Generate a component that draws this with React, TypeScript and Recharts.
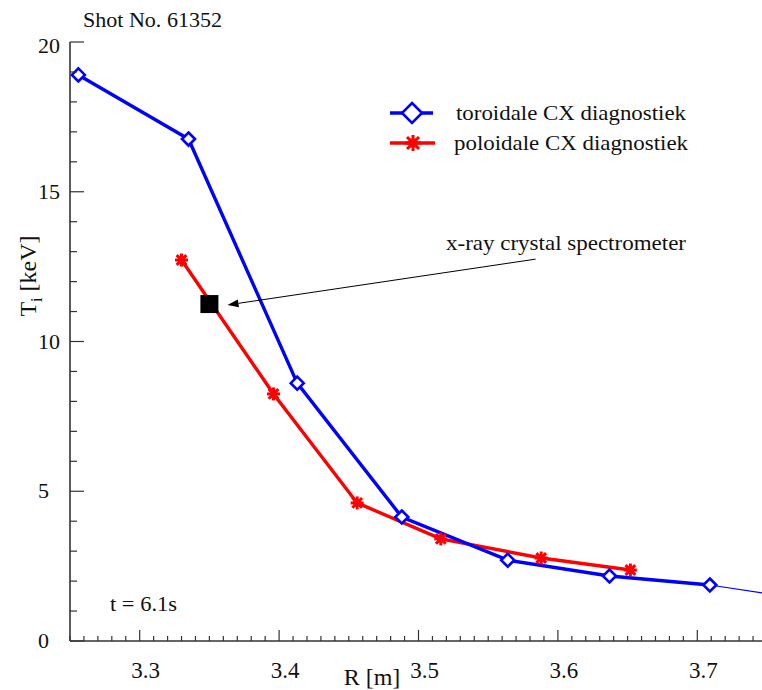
import { ComposedChart, Line, Scatter, XAxis, YAxis, ReferenceLine, Customized } from 'recharts';

// toroidal CX (blue diamonds)
const toroidalR = [3.256, 3.335, 3.413, 3.488, 3.564, 3.637, 3.709];
const toroidalT = [18.9, 16.76, 8.61, 4.14, 2.7, 2.17, 1.87];
// thin continuation past the last toroidal point
const toroidalTailR = [3.709, 3.75];
const toroidalTailT = [1.87, 1.58];
// poloidal CX (red asterisks)
const poloidalR = [3.33, 3.396, 3.456, 3.516, 3.588, 3.652];
const poloidalT = [12.72, 8.25, 4.61, 3.41, 2.77, 2.37];
// x-ray crystal spectrometer point
const crystalR = [3.35];
const crystalT = [11.25];
// annotation arrow, tail -> head
const arrowR = [3.584, 3.363];
const arrowT = [12.75, 11.22];

const xDomain = [3.25, 3.75];
const yDomain = [0, 20];
const xLabels = [3.3, 3.4, 3.5, 3.6, 3.7];
const yLabels = [0, 5, 10, 15, 20];
const xMinorStep = 0.01;
const yMinorStep = 1;

const toRows = (rs: number[], ts: number[]) => rs.map((R, i) => ({ R, T: ts[i] }));
const toroidal = toRows(toroidalR, toroidalT);
const toroidalTail = toRows(toroidalTailR, toroidalTailT);
const poloidal = toRows(poloidalR, poloidalT);
const crystal = toRows(crystalR, crystalT);

const xTicks: number[] = [];
for (let v = xDomain[0]; v <= xDomain[1] + 1e-9; v += xMinorStep) xTicks.push(+v.toFixed(2));
const yTicks: number[] = [];
for (let v = yDomain[0]; v <= yDomain[1]; v += yMinorStep) yTicks.push(v);

const BLUE = '#0000ff';
const RED = '#ff0000';
const AXIS = '#333';
const INK = '#111';
const FONT = "'Liberation Serif', 'Times New Roman', serif";

const isXMajor = (v: number) => xLabels.some((l) => Math.abs(l - v) < 1e-6);
const isYMajor = (v: number) => yLabels.includes(v);

function BottomTick({ x, y, payload }: any) {
  const major = isXMajor(payload.value);
  return (
    <g>
      <line x1={x} x2={x} y1={y} y2={y - (major ? 11 : 5)} stroke={AXIS} strokeWidth={1.2} />
      {major && (
        <text x={x + 6} y={y + 37} textAnchor="middle" fontSize={23} fontFamily={FONT} fill={INK}>
          {payload.value.toFixed(1)}
        </text>
      )}
    </g>
  );
}

function TopTick({ x, y, payload }: any) {
  const major = isXMajor(payload.value);
  return <line x1={x} x2={x} y1={y} y2={y + (major ? 11 : 5)} stroke={AXIS} strokeWidth={1.2} />;
}

function LeftTick({ x, y, payload }: any) {
  const v = payload.value;
  const major = isYMajor(v);
  return (
    <g>
      <line x1={x} x2={x + (major ? 14 : 7)} y1={y} y2={y} stroke={AXIS} strokeWidth={1.2} />
      {major && (
        <text x={38} y={y + (v === yDomain[1] ? 11 : 7)} fontSize={22} fontFamily={FONT} fill={INK}>
          {v}
        </text>
      )}
    </g>
  );
}

function RightTick({ x, y, payload }: any) {
  const major = isYMajor(payload.value);
  return <line x1={x} x2={x - (major ? 14 : 7)} y1={y} y2={y} stroke={AXIS} strokeWidth={1.2} />;
}

function Diamond({ cx, cy, r = 6.5 }: { cx: number; cy: number; r?: number }) {
  return (
    <polygon
      points={`${cx},${cy - r} ${cx + r},${cy} ${cx},${cy + r} ${cx - r},${cy}`}
      fill="#fff"
      stroke={BLUE}
      strokeWidth={2.6}
    />
  );
}

function Asterisk({ cx, cy, r = 6.5 }: { cx: number; cy: number; r?: number }) {
  const d = r * 0.75;
  return (
    <g stroke={RED} strokeWidth={3}>
      <rect x={cx - r * 0.55} y={cy - r * 0.55} width={r * 1.1} height={r * 1.1} fill={RED} stroke="none" />
      <line x1={cx - r} y1={cy} x2={cx + r} y2={cy} />
      <line x1={cx} y1={cy - r} x2={cx} y2={cy + r} />
      <line x1={cx - d} y1={cy - d} x2={cx + d} y2={cy + d} />
      <line x1={cx - d} y1={cy + d} x2={cx + d} y2={cy - d} />
    </g>
  );
}

function Arrow({ x1, y1, x2, y2 }: any) {
  const ang = Math.atan2(y2 - y1, x2 - x1);
  const len = 11;
  const w = 4;
  const bx = x2 - len * Math.cos(ang);
  const by = y2 - len * Math.sin(ang);
  const px = -Math.sin(ang) * w;
  const py = Math.cos(ang) * w;
  return (
    <g>
      <line x1={x1} y1={y1} x2={bx} y2={by} stroke="#000" strokeWidth={1} />
      <polygon points={`${x2},${y2} ${bx + px},${by + py} ${bx - px},${by - py}`} fill="#000" />
    </g>
  );
}

function Decorations() {
  return (
    <g fontFamily={FONT} fill={INK}>
      <text x={83} y={27} fontSize={21} textLength={139} lengthAdjust="spacingAndGlyphs">Shot No. 61352</text>

      <line x1={390} x2={433} y1={113} y2={113} stroke={BLUE} strokeWidth={3.5} />
      <Diamond cx={412} cy={113} r={10} />
      <text x={456} y={120} fontSize={21} textLength={230} lengthAdjust="spacingAndGlyphs">toroidale CX diagnostiek</text>

      <line x1={390} x2={435} y1={143} y2={143} stroke={RED} strokeWidth={3.5} />
      <Asterisk cx={413} cy={143} r={8} />
      <text x={454} y={150} fontSize={21} textLength={234} lengthAdjust="spacingAndGlyphs">poloidale CX diagnostiek</text>

      <text x={446} y={250} fontSize={21} textLength={240} lengthAdjust="spacingAndGlyphs">x-ray crystal spectrometer</text>
      <text x={110} y={611} fontSize={21} textLength={67} lengthAdjust="spacingAndGlyphs">t = 6.1s</text>

      <text x={372} y={685} fontSize={24} textAnchor="middle">R [m]</text>
      <text x={36} y={276} fontSize={24} textAnchor="middle" transform="rotate(-90, 36, 276)">
        T<tspan dy={6} fontSize={16}>i</tspan>
        <tspan dy={-6}> [keV]</tspan>
      </text>
    </g>
  );
}

export default function App() {
  return (
    <div style={{ position: 'absolute', left: 0, top: 0, width: 762, height: 690, overflow: 'hidden', background: '#fff' }}>
      <ComposedChart width={780} height={690} margin={{ top: 42, right: 13, bottom: 0, left: 0 }}>
        <XAxis
          dataKey="R"
          type="number"
          domain={xDomain}
          allowDataOverflow
          ticks={xTicks}
          interval={0}
          height={49}
          tickSize={0}
          tickMargin={0}
          tickLine={false}
          tick={<BottomTick />}
          axisLine={{ stroke: AXIS, strokeWidth: 1.6 }}
        />
        <XAxis
          xAxisId="top"
          orientation="top"
          dataKey="R"
          type="number"
          domain={xDomain}
          allowDataOverflow
          ticks={xTicks}
          interval={0}
          height={0}
          tickSize={0}
          tickMargin={0}
          tickLine={false}
          tick={<TopTick />}
          axisLine={{ stroke: AXIS, strokeWidth: 1.6 }}
        />
        <YAxis
          type="number"
          domain={yDomain}
          allowDataOverflow
          ticks={yTicks}
          interval={0}
          width={70}
          tickSize={0}
          tickMargin={0}
          tickLine={false}
          tick={<LeftTick />}
          axisLine={{ stroke: AXIS, strokeWidth: 1.6 }}
        />
        <YAxis
          yAxisId="right"
          orientation="right"
          type="number"
          domain={yDomain}
          allowDataOverflow
          ticks={yTicks}
          interval={0}
          width={0}
          tickSize={0}
          tickMargin={0}
          tickLine={false}
          tick={<RightTick />}
          axisLine={{ stroke: AXIS, strokeWidth: 1.6 }}
        />

        <Line
          data={toroidalTail}
          dataKey="T"
          type="linear"
          stroke={BLUE}
          strokeWidth={1.2}
          dot={false}
          activeDot={false}
          isAnimationActive={false}
        />
        <Line
          data={poloidal}
          dataKey="T"
          type="linear"
          stroke={RED}
          strokeWidth={3.4}
          dot={(p: any) => <Asterisk key={`p${p.index}`} cx={p.cx} cy={p.cy} />}
          activeDot={false}
          isAnimationActive={false}
        />
        <Line
          data={toroidal}
          dataKey="T"
          type="linear"
          stroke={BLUE}
          strokeWidth={3.4}
          dot={(p: any) => <Diamond key={`t${p.index}`} cx={p.cx} cy={p.cy} />}
          activeDot={false}
          isAnimationActive={false}
        />
        <Scatter
          data={crystal}
          dataKey="T"
          isAnimationActive={false}
          shape={(p: any) => <rect x={p.cx - 9} y={p.cy - 9} width={18} height={18} fill="#000" />}
        />
        <ReferenceLine
          segment={[
            { x: arrowR[0], y: arrowT[0] },
            { x: arrowR[1], y: arrowT[1] },
          ]}
          shape={(p: any) => <Arrow {...p} />}
        />
        <Customized component={Decorations} />
      </ComposedChart>
    </div>
  );
}
